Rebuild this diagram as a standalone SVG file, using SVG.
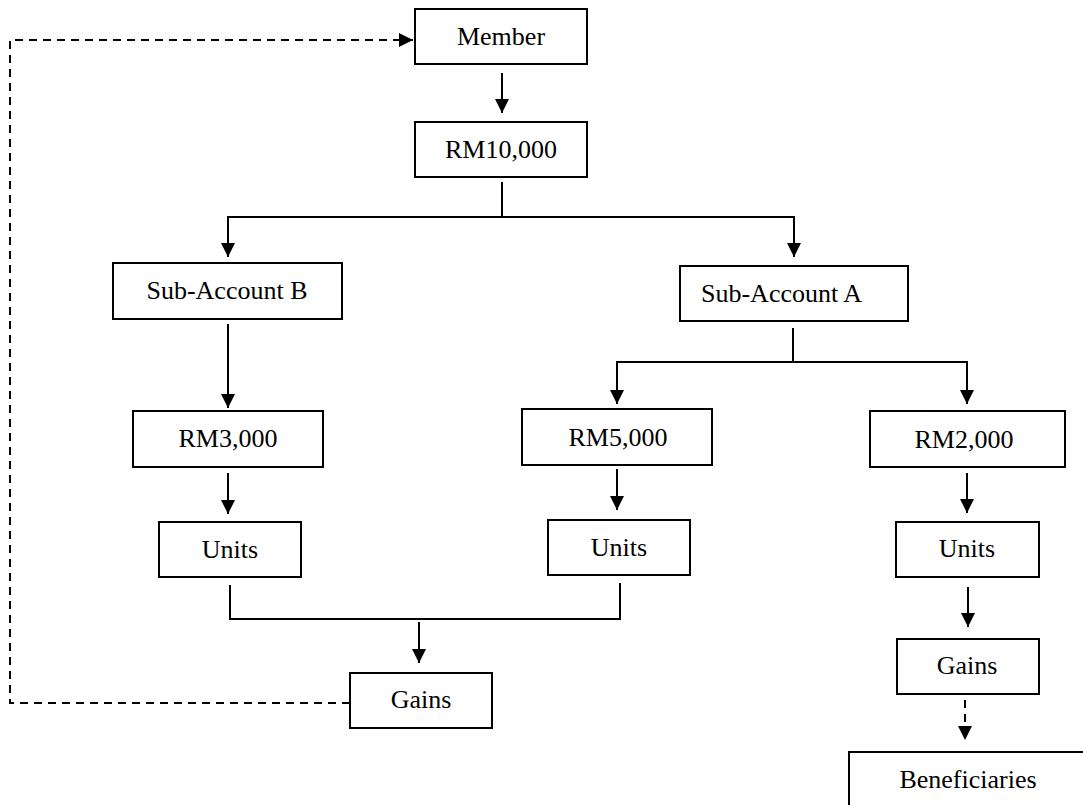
<svg xmlns="http://www.w3.org/2000/svg" width="1083" height="805" viewBox="0 0 1083 805">
<style>
.box{fill:#fff;stroke:#000;stroke-width:2}
.t{font-family:"Liberation Serif","Times New Roman",serif;font-size:26px;fill:#000;text-anchor:middle}
.ln{fill:none;stroke:#000;stroke-width:2}
.dash{fill:none;stroke:#000;stroke-width:2;stroke-dasharray:8,6}
</style>
<defs>
<marker id="ah" markerUnits="userSpaceOnUse" markerWidth="14" markerHeight="14" refX="14" refY="7" orient="auto">
<path d="M0,0 L14,7 L0,14 z" fill="#000"/>
</marker>
</defs>
<rect width="1083" height="805" fill="#fff"/>
<g id="connectors">
<path class="dash" d="M350,703 H10 V40 H413" marker-end="url(#ah)"/>
<path class="ln" d="M502,73 V113" marker-end="url(#ah)"/>
<path class="ln" d="M502,182 V217 H228 V257" marker-end="url(#ah)"/>
<path class="ln" d="M502,217 H794 V257" marker-end="url(#ah)"/>
<path class="ln" d="M228,324 V408" marker-end="url(#ah)"/>
<path class="ln" d="M793,328 V362 H617 V404" marker-end="url(#ah)"/>
<path class="ln" d="M793,362 H967 V404" marker-end="url(#ah)"/>
<path class="ln" d="M228,473 V514" marker-end="url(#ah)"/>
<path class="ln" d="M617,469 V510" marker-end="url(#ah)"/>
<path class="ln" d="M967,473 V513" marker-end="url(#ah)"/>
<path class="ln" d="M230,585 V619 H620 V583"/>
<path class="ln" d="M419,622 V663" marker-end="url(#ah)"/>
<path class="ln" d="M968,587 V627" marker-end="url(#ah)"/>
<path class="dash" d="M965,700 V740" marker-end="url(#ah)"/>
</g>
<g id="member"><rect class="box" x="415" y="9" width="172" height="55"/><text class="t" x="501" y="45">Member</text></g>
<g id="rm10000"><rect class="box" x="415" y="122" width="172" height="55"/><text class="t" x="501" y="158">RM10,000</text></g>
<g id="subB"><rect class="box" x="113" y="263" width="229" height="56"/><text class="t" x="227" y="299">Sub-Account B</text></g>
<g id="subA"><rect class="box" x="680" y="266" width="228" height="55"/><text class="t" x="701" y="302" style="text-anchor:start">Sub-Account A</text></g>
<g id="rm3000"><rect class="box" x="133" y="411" width="190" height="56"/><text class="t" x="228" y="447">RM3,000</text></g>
<g id="rm5000"><rect class="box" x="522" y="409" width="190" height="56"/><text class="t" x="618" y="446">RM5,000</text></g>
<g id="rm2000"><rect class="box" x="870" y="411" width="195" height="56"/><text class="t" x="964" y="448">RM2,000</text></g>
<g id="unitsB"><rect class="box" x="159" y="522" width="142" height="55"/><text class="t" x="230" y="558">Units</text></g>
<g id="unitsA1"><rect class="box" x="548" y="520" width="142" height="55"/><text class="t" x="619" y="556">Units</text></g>
<g id="unitsA2"><rect class="box" x="896" y="522" width="143" height="55"/><text class="t" x="967" y="557">Units</text></g>
<g id="gains1"><rect class="box" x="350" y="673" width="142" height="55"/><text class="t" x="421" y="708">Gains</text></g>
<g id="gains2"><rect class="box" x="897" y="639" width="142" height="55"/><text class="t" x="967" y="674">Gains</text></g>
<g id="beneficiaries"><rect class="box" x="849" y="752" width="238" height="60"/><text class="t" x="968" y="788">Beneficiaries</text></g>
</svg>
